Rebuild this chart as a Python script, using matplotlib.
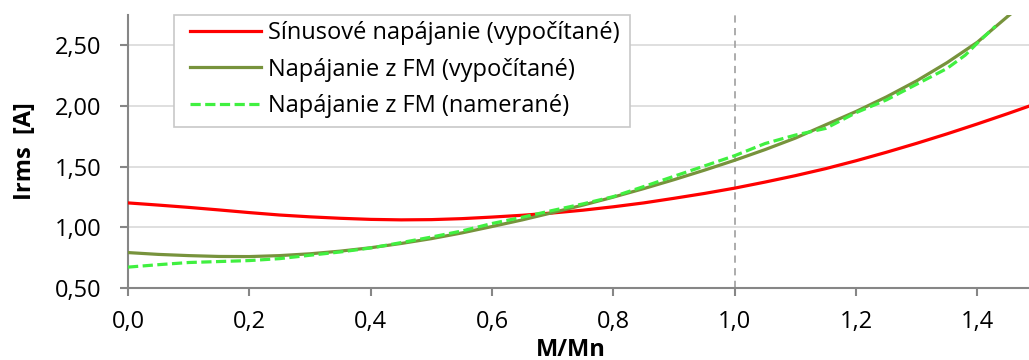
import matplotlib
matplotlib.use("Agg")
import matplotlib.pyplot as plt
from matplotlib.patches import Rectangle
from matplotlib.ticker import FuncFormatter

# M/Mn values
x_sin = [0.00, 0.05, 0.10, 0.15, 0.20, 0.25, 0.30, 0.35, 0.40, 0.45, 0.50,
         0.55, 0.60, 0.65, 0.70, 0.75, 0.80, 0.85, 0.90, 0.95, 1.00, 1.05,
         1.10, 1.15, 1.20, 1.25, 1.30, 1.35, 1.40, 1.45, 1.50]
irms_sin = [1.200, 1.182, 1.163, 1.142, 1.120, 1.100, 1.085, 1.073, 1.064,
            1.060, 1.062, 1.070, 1.083, 1.098, 1.117, 1.140, 1.168, 1.200,
            1.238, 1.278, 1.322, 1.372, 1.425, 1.483, 1.548, 1.618, 1.692,
            1.770, 1.852, 1.937, 2.025]

x_fm = x_sin
irms_fm = [0.790, 0.775, 0.765, 0.758, 0.757, 0.765, 0.780, 0.802, 0.830,
           0.865, 0.905, 0.952, 1.005, 1.060, 1.120, 1.182, 1.248, 1.318,
           1.392, 1.470, 1.552, 1.640, 1.735, 1.845, 1.955, 2.075, 2.208,
           2.358, 2.527, 2.740, 2.940]

x_meas = [0.00, 0.05, 0.10, 0.15, 0.20, 0.25, 0.30, 0.35, 0.40, 0.45, 0.50,
          0.55, 0.60, 0.65, 0.70, 0.75, 0.80, 0.85, 0.90, 0.95, 1.00, 1.05,
          1.10, 1.15, 1.20, 1.25, 1.30, 1.35, 1.38, 1.40, 1.43]
irms_meas = [0.670, 0.690, 0.708, 0.716, 0.724, 0.740, 0.768, 0.795, 0.828,
             0.872, 0.918, 0.968, 1.030, 1.082, 1.138, 1.192, 1.252, 1.335,
             1.420, 1.505, 1.590, 1.690, 1.760, 1.815, 1.945, 2.050, 2.180,
             2.310, 2.420, 2.520, 2.660]

labels = ["Sínusové napájanie (vypočítané)",
          "Napájanie z FM (vypočítané)",
          "Napájanie z FM (namerané)"]

plt.rcParams['font.family'] = ['Open Sans', 'DejaVu Sans']

W, H = 1029, 360
fig = plt.figure(figsize=(W / 100, H / 100), dpi=100)
ax = fig.add_axes([0.1244, 0.2008, 0.8756, 0.7572])

ax.plot(x_sin, irms_sin, color="#ff0000", lw=2.3, label=labels[0], zorder=3)
ax.plot(x_fm, irms_fm, color="#77933c", lw=2.3, label=labels[1], zorder=4)
ax.plot(x_meas, irms_meas, color="#40f040", lw=2.3, ls=(0, (3.2, 1.4)),
        label=labels[2], zorder=5)

# rated torque marker
ax.axvline(1.0, color="#a6a6a6", lw=1.3, ls=(0, (4, 3)), zorder=2)

ax.set_xlim(0, 1.485)
ax.set_ylim(0.5, 2.75)
ax.set_xticks([0.0, 0.2, 0.4, 0.6, 0.8, 1.0, 1.2, 1.4])
ax.set_yticks([0.5, 1.0, 1.5, 2.0, 2.5])
ax.xaxis.set_major_formatter(FuncFormatter(lambda v, p: f"{v:.1f}".replace(".", ",")))
ax.yaxis.set_major_formatter(FuncFormatter(lambda v, p: f"{v:.2f}".replace(".", ",")))

ax.yaxis.grid(True, color="#d9d9d9", lw=1.2, zorder=0)
ax.set_axisbelow(True)
for s in ["top", "right"]:
    ax.spines[s].set_visible(False)
for s in ["left", "bottom"]:
    ax.spines[s].set_color("#868686")
    ax.spines[s].set_linewidth(1.5)
ax.tick_params(colors="#868686", width=1.5, length=6, labelsize=17,
               labelcolor="black")
ax.tick_params(axis="x", pad=10)
ax.tick_params(axis="y", pad=13)

ax.set_xlabel("M/Mn", fontsize=17, fontweight="bold")
ax.xaxis.set_label_coords(0.492, -0.183)
ax.set_ylabel("Irms  [A]", fontsize=17, fontweight="bold")
ax.yaxis.set_label_coords(-0.101, 0.5)

# legend box drawn separately so the side padding can differ from the row gap
box = Rectangle((174 / W, 1 - 127 / H), (630 - 174) / W, (127 - 15) / H,
                transform=fig.transFigure, facecolor="white",
                edgecolor="#c8c8c8", lw=1.2, zorder=10)
fig.patches.append(box)
leg = fig.legend(loc="upper left", bbox_to_anchor=(190 / W, 1 - 21 / H),
                 fontsize=17, frameon=False, handlelength=3.0,
                 handletextpad=0.3, labelspacing=0.53, borderpad=0,
                 borderaxespad=0)
leg.set_zorder(11)

fig.savefig("out.png", dpi=100)
